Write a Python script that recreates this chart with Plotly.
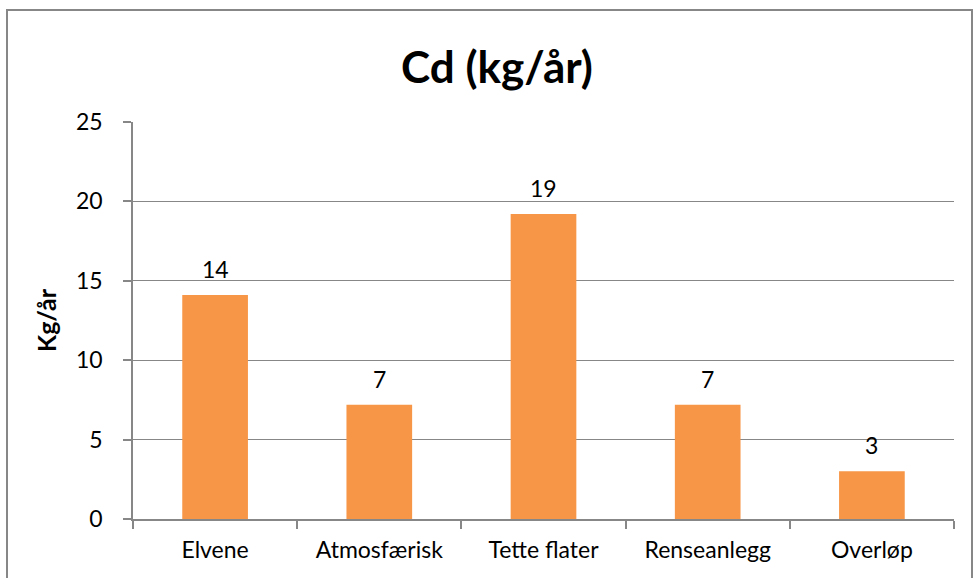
import plotly.graph_objects as go

categories = ["Elvene", "Atmosfærisk", "Tette flater", "Renseanlegg", "Overløp"]
values = [14.1, 7.2, 19.2, 7.2, 3.0]
labels = ["14", "7", "19", "7", "3"]
y_ticks = [0, 5, 10, 15, 20, 25]

FONT = "Lato"
GRAY = "#878787"
TICK_SIZE = 23

fig = go.Figure(
    go.Bar(
        x=categories,
        y=values,
        marker=dict(color="#F79646", line=dict(width=0)),
        hoverinfo="skip",
    )
)

for c, v, t in zip(categories, values, labels):
    fig.add_annotation(
        x=c, y=v, text=t, showarrow=False,
        yanchor="bottom", yshift=10,
        font=dict(family=FONT, size=TICK_SIZE, color="black"),
    )

L, R, T, B = 133, 20, 122, 59
W, H = 974, 578
pw, ph = W - L - R, H - T - B

fig.update_layout(
    width=W,
    height=H,
    margin=dict(l=L, r=R, t=T, b=B),
    paper_bgcolor="white",
    plot_bgcolor="white",
    bargap=0.6,
    showlegend=False,
    title=dict(
        text="<b>Cd (kg/år)</b>",
        x=497 / W,
        xanchor="center",
        y=1 - 68 / H,
        yanchor="middle",
        font=dict(family=FONT, size=44, color="black"),
    ),
    xaxis=dict(
        showline=True,
        linecolor=GRAY,
        linewidth=1.5,
        ticks="outside",
        tickson="boundaries",
        ticklen=8,
        tickcolor=GRAY,
        tickwidth=1.5,
        ticklabelstandoff=10,
        tickfont=dict(family=FONT, size=TICK_SIZE, color="black"),
        showgrid=False,
    ),
    yaxis=dict(
        range=[0, 25],
        tickvals=y_ticks,
        showline=True,
        linecolor=GRAY,
        linewidth=1.5,
        ticks="outside",
        ticklen=8,
        tickcolor=GRAY,
        tickwidth=1.5,
        ticklabelstandoff=16,
        showgrid=True,
        gridcolor=GRAY,
        gridwidth=1.3,
        zeroline=False,
        tickfont=dict(family=FONT, size=TICK_SIZE, color="black"),
        title=dict(text="<b>Kg/år</b>", font=dict(family=FONT, size=25, color="black"), standoff=12),
    ),
    shapes=[
        dict(
            type="rect",
            xref="paper",
            yref="paper",
            x0=(7 - L) / pw,
            x1=(972 - L) / pw,
            y0=((H - B) - (H + 10)) / ph,
            y1=1 + (T - 10) / ph,
            line=dict(color=GRAY, width=2),
            fillcolor="rgba(0,0,0,0)",
            layer="below",
        )
    ],
)

fig.write_html(
    "out.html",
    config={"displayModeBar": False},
    post_script="document.body.style.margin='0';document.body.style.overflow='hidden';",
)
